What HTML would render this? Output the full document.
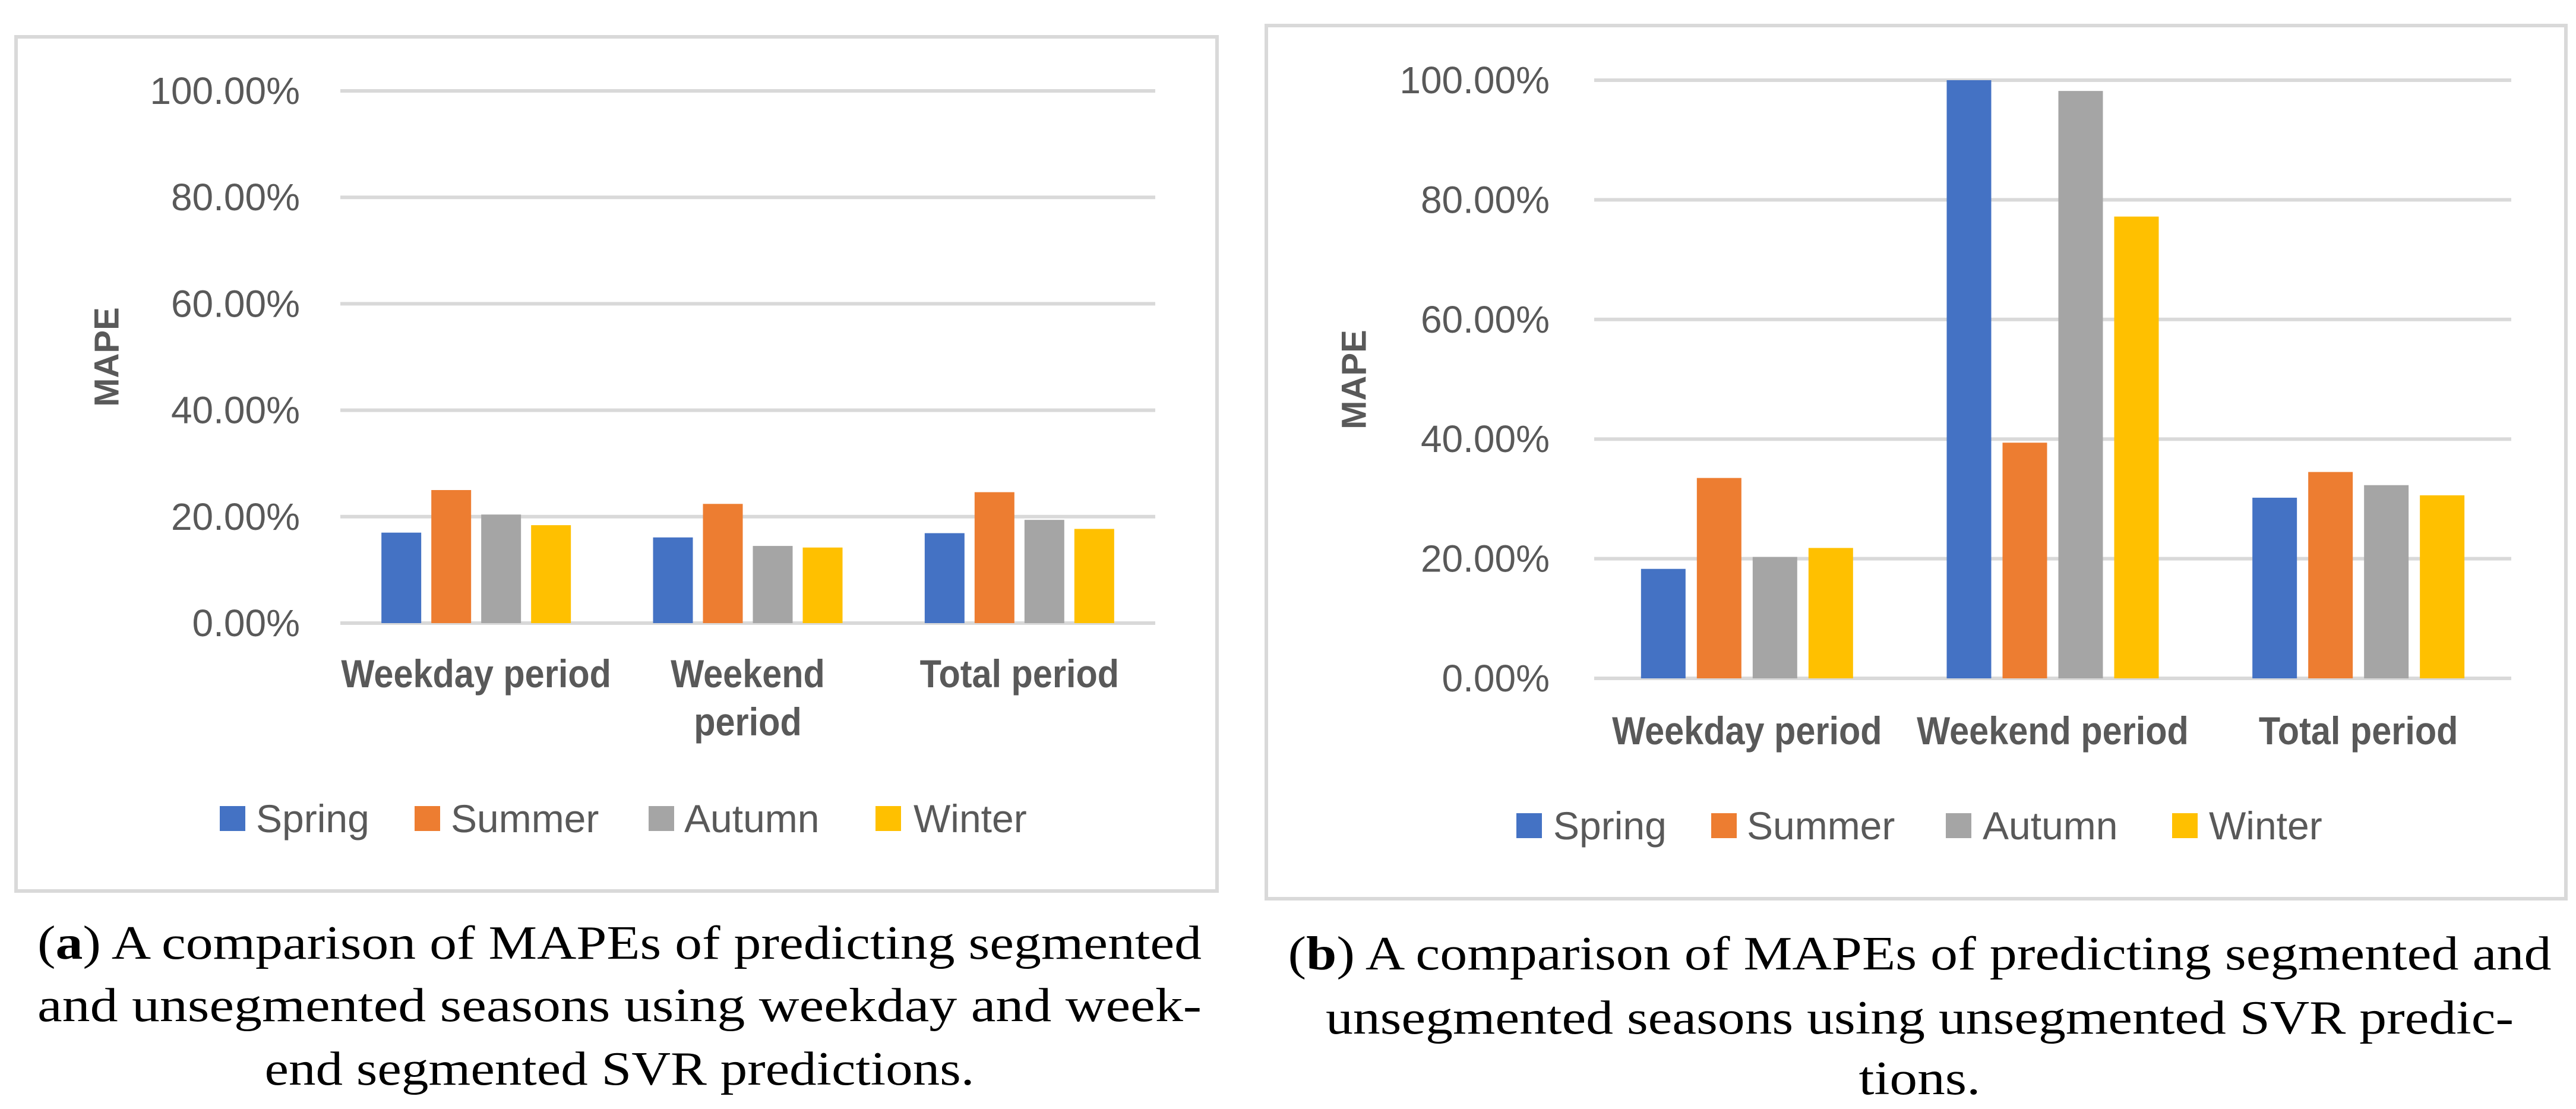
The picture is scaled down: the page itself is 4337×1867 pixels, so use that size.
<!DOCTYPE html>
<html><head><meta charset="utf-8"><style>
html,body{margin:0;padding:0;background:#fff;}
svg{display:block;}
</style></head><body>
<svg id="fig" width="4337" height="1867" viewBox="0 0 4337 1867" xmlns="http://www.w3.org/2000/svg">
<rect x="27" y="62" width="2022" height="1438" fill="#fff" stroke="#d9d9d9" stroke-width="6"/>
<rect x="2132" y="43" width="2188" height="1470" fill="#fff" stroke="#d9d9d9" stroke-width="6"/>
<g id="chartA"></g>
<g id="chartB"></g>
<g font-family="Liberation Serif, serif" font-size="80" fill="#000">
<text x="1043" y="1614" text-anchor="middle" textLength="1960" lengthAdjust="spacingAndGlyphs">(<tspan font-weight="bold">a</tspan>) A comparison of MAPEs of predicting segmented</text>
<text x="1043" y="1719" text-anchor="middle" textLength="1960" lengthAdjust="spacingAndGlyphs">and unsegmented seasons using weekday and week-</text>
<text x="1043" y="1826" text-anchor="middle" textLength="1195" lengthAdjust="spacingAndGlyphs">end segmented SVR predictions.</text>
<text x="3232" y="1632" text-anchor="middle" textLength="2127" lengthAdjust="spacingAndGlyphs">(<tspan font-weight="bold">b</tspan>) A comparison of MAPEs of predicting segmented and</text>
<text x="3232" y="1740" text-anchor="middle" textLength="2000" lengthAdjust="spacingAndGlyphs">unsegmented seasons using unsegmented SVR predic-</text>
<text x="3232" y="1842" text-anchor="middle" textLength="205" lengthAdjust="spacingAndGlyphs">tions.</text>
</g>
</svg>
<script>
const categories = ["Weekday period", "Weekend period", "Total period"];
const seriesNames = ["Spring", "Summer", "Autumn", "Winter"];
const tickValues = [0, 20, 40, 60, 80, 100];
const tickLabels = ["0.00%", "20.00%", "40.00%", "60.00%", "80.00%", "100.00%"];
const springA = [17.0, 16.1, 16.9];
const summerA = [25.0, 22.4, 24.6];
const autumnA = [20.4, 14.5, 19.4];
const winterA = [18.4, 14.2, 17.7];
const springB = [18.3, 100.0, 30.2];
const summerB = [33.5, 39.4, 34.5];
const autumnB = [20.3, 98.2, 32.3];
const winterB = [21.8, 77.2, 30.6];
const colors = ["#4472c4", "#ed7d31", "#a5a5a5", "#ffc000"];
const NS = "http://www.w3.org/2000/svg";
function mk(parent, tag, attrs, text) {
  const e = document.createElementNS(NS, tag);
  for (const k in attrs) e.setAttribute(k, attrs[k]);
  if (text !== undefined) e.textContent = text;
  parent.appendChild(e);
  return e;
}
function drawChart(g, cfg, series, prefix) {
  const y = v => cfg.y0 - (v / 100) * (cfg.y0 - cfg.y100);
  const catW = (cfg.x1 - cfg.x0) / categories.length;
  const x = i => cfg.x0 + catW * (i + 0.5);
  tickValues.forEach((t, i) => {
    const ln = mk(g, "line", {x1: cfg.x0, x2: cfg.x1, y1: y(t), y2: y(t), stroke: "#d9d9d9", "stroke-width": 6});
    
    
    const tx = mk(g, "text", {x: cfg.tickX, y: y(t), "text-anchor": "end", "dominant-baseline": "central", "font-family": "Liberation Sans, sans-serif", "font-size": 64, fill: "#595959"}, tickLabels[i]);
    
    
  });
  const step = cfg.barW + cfg.gap;
  const groupW = series.length * cfg.barW + (series.length - 1) * cfg.gap;
  categories.forEach((c, ci) => {
    series.forEach((s, si) => {
      const bx = x(ci) - groupW / 2 + si * step;
      const r = mk(g, "rect", {x: bx, y: y(s[ci]), width: cfg.barW, height: y(0) - y(s[ci]), fill: colors[si]});
      
      
    });
    const lines = cfg.wrap && c === "Weekend period" ? ["Weekend", "period"] : [c];
    lines.forEach((l, li) => {
      const t = mk(g, "text", {x: x(ci), y: cfg.catY + li * 81, "text-anchor": "middle", "dominant-baseline": "central", "font-family": "Liberation Sans, sans-serif", "font-weight": "bold", "font-size": 66, fill: "#595959"}, l);
      
      
      const w = t.getComputedTextLength();
      if (w > 0) { t.setAttribute("textLength", w * 0.9); t.setAttribute("lengthAdjust", "spacingAndGlyphs"); }
    });
  });
  const at = mk(g, "text", {x: 0, y: 0, transform: `translate(${cfg.titleX},${cfg.titleY}) rotate(-90)`, "text-anchor": "middle", "dominant-baseline": "central", "font-family": "Liberation Sans, sans-serif", "font-weight": "bold", "font-size": 58, fill: "#595959"}, "MAPE");
  
  
  seriesNames.forEach((n, i) => {
    const lg = mk(g, "g", {});
    
    
    mk(lg, "rect", {x: cfg.legSq[i], y: cfg.legY - 21, width: 43, height: 42, fill: colors[i]});
    mk(lg, "text", {x: cfg.legTx[i], y: cfg.legY, "dominant-baseline": "central", "font-family": "Liberation Sans, sans-serif", "font-size": 66, fill: "#595959"}, n);
  });
}
drawChart(document.getElementById("chartA"), {
  x0: 573, x1: 1945, y0: 1049, y100: 153, tickX: 505, barW: 67, gap: 17,
  catY: 1134, wrap: true, titleX: 180, titleY: 601,
  legY: 1378, legSq: [370, 698, 1092, 1474], legTx: [431, 759, 1152, 1538]
}, [springA, summerA, autumnA, winterA], "chart-a");
drawChart(document.getElementById("chartB"), {
  x0: 2684, x1: 4228, y0: 1142, y100: 135, tickX: 2609, barW: 75, gap: 19,
  catY: 1230, wrap: false, titleX: 2280, titleY: 639,
  legY: 1390, legSq: [2553, 2881, 3276, 3657], legTx: [2615, 2941, 3338, 3719]
}, [springB, summerB, autumnB, winterB], "chart-b");
</script>
</body></html>
